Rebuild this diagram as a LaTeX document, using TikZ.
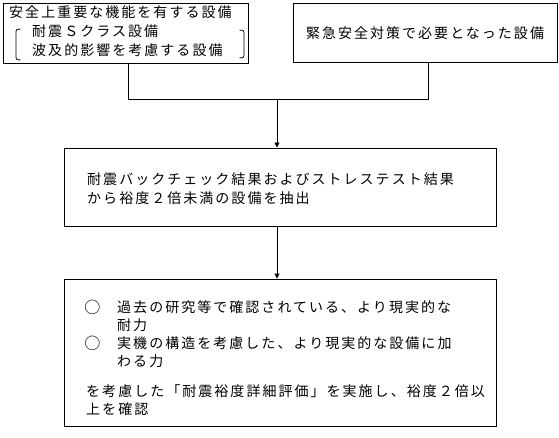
\documentclass[tikz,border=0pt]{standalone}
\usepackage{fontspec}
\setmainfont{Noto Sans CJK JP}[LetterSpace=14.5]
\usetikzlibrary{arrows.meta}
\begin{document}
\begin{tikzpicture}[x=1pt,y=-1pt,
  box/.style={draw, line width=0.9pt, inner sep=0, minimum width=#1},
  txt/.style={anchor=west, inner sep=0, text height=11.6pt, text depth=1pt, font=\fontsize{14pt}{16pt}\selectfont},
  ctxt/.style={inner sep=0, text height=11.6pt, text depth=1pt, font=\fontsize{14pt}{16pt}\selectfont},
  conn/.style={line width=0.9pt},
  arr/.style={line width=0.9pt, -{Triangle[length=5pt,width=5pt]}}]
\useasboundingbox (0,0) rectangle (559,438);
% boxes
\node[box=245pt, minimum height=60pt] (b1) at (125.5,33) {};
\node[box=264pt, minimum height=59pt] (b2) at (425,32.5) {};
\node[box=432pt, minimum height=78pt] (b3) at (280,187) {};
\node[box=432pt, minimum height=147pt] (b4) at (280,352.5) {};
% box 1 text
\node[txt] (t11) at (9,12) {安全上重要な機能を有する設備};
\node[txt] (t12) at (32,31) {耐震Ｓクラス設備};
\node[txt] (t13) at (32,50) {波及的影響を考慮する設備};
\draw[line width=0.8pt] (20.5,29) .. controls (16,29.5) .. (16,34) -- (16,55) .. controls (16,59.5) .. (20.5,60);
\draw[line width=0.8pt] (239.5,30) .. controls (244,30.5) .. (244,35) -- (244,53) .. controls (244,57.5) .. (239.5,58);
% box 2 text
\node[ctxt] (t21) at (425,33) {緊急安全対策で必要となった設備};
% box 3 text
\node[txt] (t31) at (87,179) {耐震バックチェック結果およびストレステスト結果};
\node[txt] (t32) at (87,198) {から裕度２倍未満の設備を抽出};
% box 4 text
\node[ctxt, scale=1.15] (c1) at (92.5,307) {○};
\node[txt] (t41) at (117,307) {過去の研究等で確認されている、より現実的な};
\node[txt] (t42) at (117,325) {耐力};
\node[ctxt, scale=1.15] (c2) at (92.5,343) {○};
\node[txt] (t43) at (117,343) {実機の構造を考慮した、より現実的な設備に加};
\node[txt] (t44) at (117,361) {わる力};
\node[txt] (t45) at (86,391) {を考慮した「耐震裕度詳細評価」を実施し、裕度２倍以};
\node[txt] (t46) at (86,409) {上を確認};
% connectors
\coordinate (m1) at (128,99);
\coordinate (m2) at (428,99);
\coordinate (j) at (277,99);
\draw[conn] (b1.south -| m1) -- (m1) -- (m2) -- (b2.south -| m2);
\draw[arr] (j) -- (b3.north -| j);
\draw[arr] (b3.south -| j) -- (b4.north -| j);
\end{tikzpicture}
\end{document}
